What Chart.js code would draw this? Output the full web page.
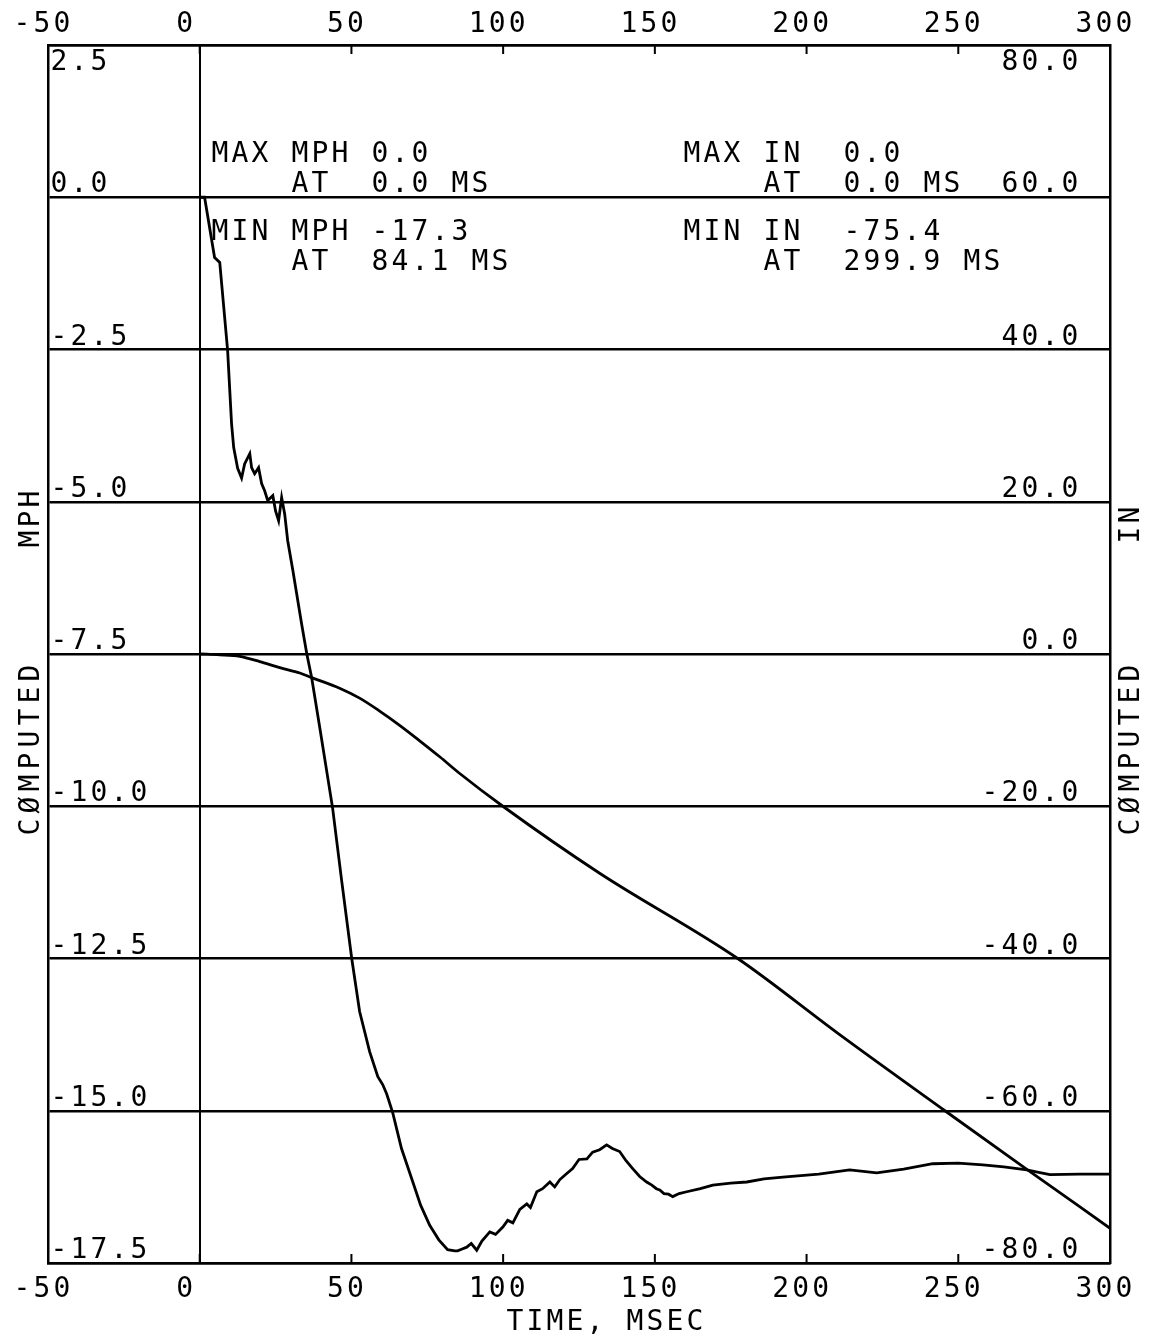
<!DOCTYPE html>
<html>
<head>
<meta charset="utf-8">
<script src="https://cdn.jsdelivr.net/npm/chart.js"></script>
<style>
  html, body { margin: 0; padding: 0; background: #fff; }
  #wrap { width: 1154px; height: 1342px; }
</style>
</head>
<body>
<div id="wrap"><canvas id="chart" width="1154" height="1342"></canvas></div>
<script>
// time axis ticks and the two y scales
const timeTicks = [-50, 0, 50, 100, 150, 200, 250, 300];
const mphTicks = [2.5, 0, -2.5, -5, -7.5, -10, -12.5, -15, -17.5];
const inTicks = [80, 60, 40, 20, 0, -20, -40, -60, -80];

// computed velocity, MPH
const mphTime = [0, 1.6, 4.9, 6.6, 9.2, 10.5, 11.2, 12.5, 13.8, 14.8, 16.5, 17.1, 18.1, 19.4, 20.4, 21.4,
  22.4, 24.1, 25.0, 26.0, 27.0, 28.0, 29.0, 30.7, 33.6, 35.3, 36.9, 39.6, 43.8, 46.8, 50.1,
  52.7, 56.0, 58.7, 60.3, 61.6, 63.6, 66.5, 69.9, 72.8, 75.8, 78.8, 81.7, 84.1, 85.0, 86.5, 88.0, 89.5, 91.3, 93.0,
  95.6, 97.5, 99.9, 101.5, 103.2, 105.5, 107.8, 109.0, 111.1, 113.0, 115.4, 117.0, 118.7, 120.5,
  122.9, 125.0, 127.6, 129.5, 131.8, 134.1, 136.0, 138.4, 140.5, 142.7, 145.0, 147.3, 149.0,
  150.5, 151.6, 153.0, 154.5, 155.9, 158.0, 160.5, 165.0, 169.1, 175.0, 180.3, 186.0, 192.2, 204.0, 214.2,
  223.1, 232.0, 241.6, 250.0, 258.1, 265.0, 272.6, 276.5, 280.2, 290.0, 299.9];
const mphValues = [0, 0, -0.99, -1.07, -2.52, -3.72, -4.11, -4.45, -4.61, -4.38, -4.21, -4.44, -4.54, -4.44, -4.70, -4.82,
  -4.98, -4.90, -5.15, -5.31, -4.93, -5.20, -5.64, -6.13, -7.01, -7.50, -7.89, -8.72, -10.03, -11.23, -12.50,
  -13.37, -14.03, -14.44, -14.57, -14.72, -15.03, -15.62, -16.12, -16.55, -16.88, -17.12, -17.28, -17.30, -17.30, -17.27, -17.24, -17.18, -17.29, -17.14,
  -16.99, -17.03, -16.91, -16.80, -16.84, -16.62, -16.53, -16.59, -16.33, -16.28, -16.17, -16.25, -16.13, -16.05,
  -15.95, -15.80, -15.79, -15.68, -15.64, -15.56, -15.62, -15.67, -15.82, -15.95, -16.08, -16.17, -16.22,
  -16.28, -16.30, -16.36, -16.37, -16.41, -16.36, -16.33, -16.28, -16.22, -16.19, -16.17, -16.12, -16.09, -16.04, -15.97,
  -16.02, -15.96, -15.87, -15.86, -15.89, -15.92, -15.97, -16.01, -16.05, -16.04, -16.04];

// computed displacement, IN
const inTime = [0, 6.6, 13.2, 19.8, 26.4, 33.0, 36.9, 46.1, 52.7, 59.3, 66.0, 72.5, 79.1, 85.7, 99.9, 131.8, 177.3, 210.9, 245.6, 271.9, 299.9];
const inValues = [0, -0.1, -0.3, -1.0, -1.8, -2.5, -3.1, -4.5, -5.8, -7.5, -9.4, -11.4, -13.5, -15.7, -20.0, -28.8, -40.0, -50.0, -60.0, -67.5, -75.4];

const PITCH = 20;
const FONT = '28px "DejaVu Sans Mono", "Liberation Mono", monospace';

// plotter-style text: every character in a fixed cell
function spaced(ctx, str, x, y, align, pitch) {
  const p = pitch || PITCH;
  const w = str.length * p;
  let start = x - w / 2;
  if (align === 'left') start = x;
  if (align === 'right') start = x - w;
  for (let i = 0; i < str.length; i++) {
    ctx.fillText(str[i], start + (i + 0.5) * p, y);
  }
}

const plotterText = {
  id: 'plotterText',
  afterDraw(chart) {
    const ctx = chart.ctx;
    const x = chart.scales.x, y = chart.scales.y, y2 = chart.scales.y2;
    const area = chart.chartArea;
    ctx.save();
    ctx.fillStyle = '#000';
    ctx.strokeStyle = '#000';
    ctx.font = FONT;
    ctx.textAlign = 'center';
    ctx.textBaseline = 'alphabetic';

    // short inward tick marks on top and bottom frame
    ctx.lineWidth = 2;
    timeTicks.forEach(v => {
      const px = x.getPixelForValue(v);
      ctx.beginPath();
      ctx.moveTo(px, area.top);
      ctx.lineTo(px, area.top + 9);
      ctx.moveTo(px, area.bottom);
      ctx.lineTo(px, area.bottom - 9);
      ctx.stroke();
    });

    // time labels, top and bottom
    timeTicks.forEach(v => {
      const px = x.getPixelForValue(v) - (v === 0 ? 15 : 6);
      spaced(ctx, String(v), px, 32, 'center');
      spaced(ctx, String(v), px, 1297, 'center');
    });

    // MPH labels inside, left
    mphTicks.forEach(v => {
      const py = y.getPixelForValue(v);
      const base = v === 2.5 ? py + 25 : py - 5;
      spaced(ctx, v.toFixed(1), 49, base, 'left');
    });
    // IN labels inside, right
    inTicks.forEach(v => {
      const py = y2.getPixelForValue(v);
      const base = v === 80 ? py + 25 : py - 5;
      spaced(ctx, v.toFixed(1), 1080, base, 'right');
    });

    // max / min summary
    spaced(ctx, 'MAX MPH 0.0', 210, 162, 'left');
    spaced(ctx, '    AT  0.0 MS', 210, 192, 'left');
    spaced(ctx, 'MIN MPH -17.3', 210, 240, 'left');
    spaced(ctx, '    AT  84.1 MS', 210, 270, 'left');
    spaced(ctx, 'MAX IN  0.0', 682, 162, 'left');
    spaced(ctx, '    AT  0.0 MS', 682, 192, 'left');
    spaced(ctx, 'MIN IN  -75.4', 682, 240, 'left');
    spaced(ctx, '    AT  299.9 MS', 682, 270, 'left');

    // axis titles
    spaced(ctx, 'TIME, MSEC', 605, 1330, 'center');
    ctx.save();
    ctx.translate(39, 0);
    ctx.rotate(-Math.PI / 2);
    spaced(ctx, 'CØMPUTED', -750, 0, 'center', 22);
    spaced(ctx, 'MPH', -519, 0, 'center');
    ctx.restore();
    ctx.save();
    ctx.translate(1139, 0);
    ctx.rotate(-Math.PI / 2);
    spaced(ctx, 'CØMPUTED', -750, 0, 'center', 22);
    spaced(ctx, 'IN', -525, 0, 'center');
    ctx.restore();

    ctx.restore();
  }
};

new Chart(document.getElementById('chart'), {
  type: 'line',
  data: {
    datasets: [
      {
        label: 'MPH',
        data: mphTime.map((t, i) => ({ x: t, y: mphValues[i] })),
        yAxisID: 'y',
        borderColor: '#000',
        borderWidth: 2.8,
        pointRadius: 0,
        tension: 0,
        fill: false
      },
      {
        label: 'IN',
        data: inTime.map((t, i) => ({ x: t, y: inValues[i] })),
        yAxisID: 'y2',
        borderColor: '#000',
        borderWidth: 2.8,
        pointRadius: 0,
        cubicInterpolationMode: 'monotone',
        fill: false
      }
    ]
  },
  options: {
    responsive: false,
    animation: false,
    devicePixelRatio: 1,
    layout: { padding: 0 },
    plugins: { legend: { display: false }, tooltip: { enabled: false } },
    scales: {
      x: {
        type: 'linear', position: 'bottom', min: -50, max: 300,
        ticks: { display: false, stepSize: 50 },
        grid: {
          drawTicks: false,
          lineWidth: 2,
          color: c => (c.tick && c.tick.value === 0 ? '#000' : 'rgba(0,0,0,0)')
        },
        border: { display: true, color: '#000', width: 2.5 },
        afterFit: s => { s.height = 79; }
      },
      x2: {
        type: 'linear', position: 'top', min: -50, max: 300,
        ticks: { display: false },
        grid: { display: false },
        border: { display: true, color: '#000', width: 2.5 },
        afterFit: s => { s.height = 45; }
      },
      y: {
        type: 'linear', position: 'left', min: -17.5, max: 2.5,
        ticks: { display: false, stepSize: 2.5 },
        grid: { drawTicks: false, color: '#000', lineWidth: 2.5 },
        border: { display: true, color: '#000', width: 2.5 },
        afterFit: s => { s.width = 48; }
      },
      y2: {
        type: 'linear', position: 'right', min: -80, max: 80,
        ticks: { display: false, stepSize: 20 },
        grid: { display: false },
        border: { display: true, color: '#000', width: 2.5 },
        afterFit: s => { s.width = 44; }
      }
    }
  },
  plugins: [plotterText]
});
</script>
</body>
</html>
